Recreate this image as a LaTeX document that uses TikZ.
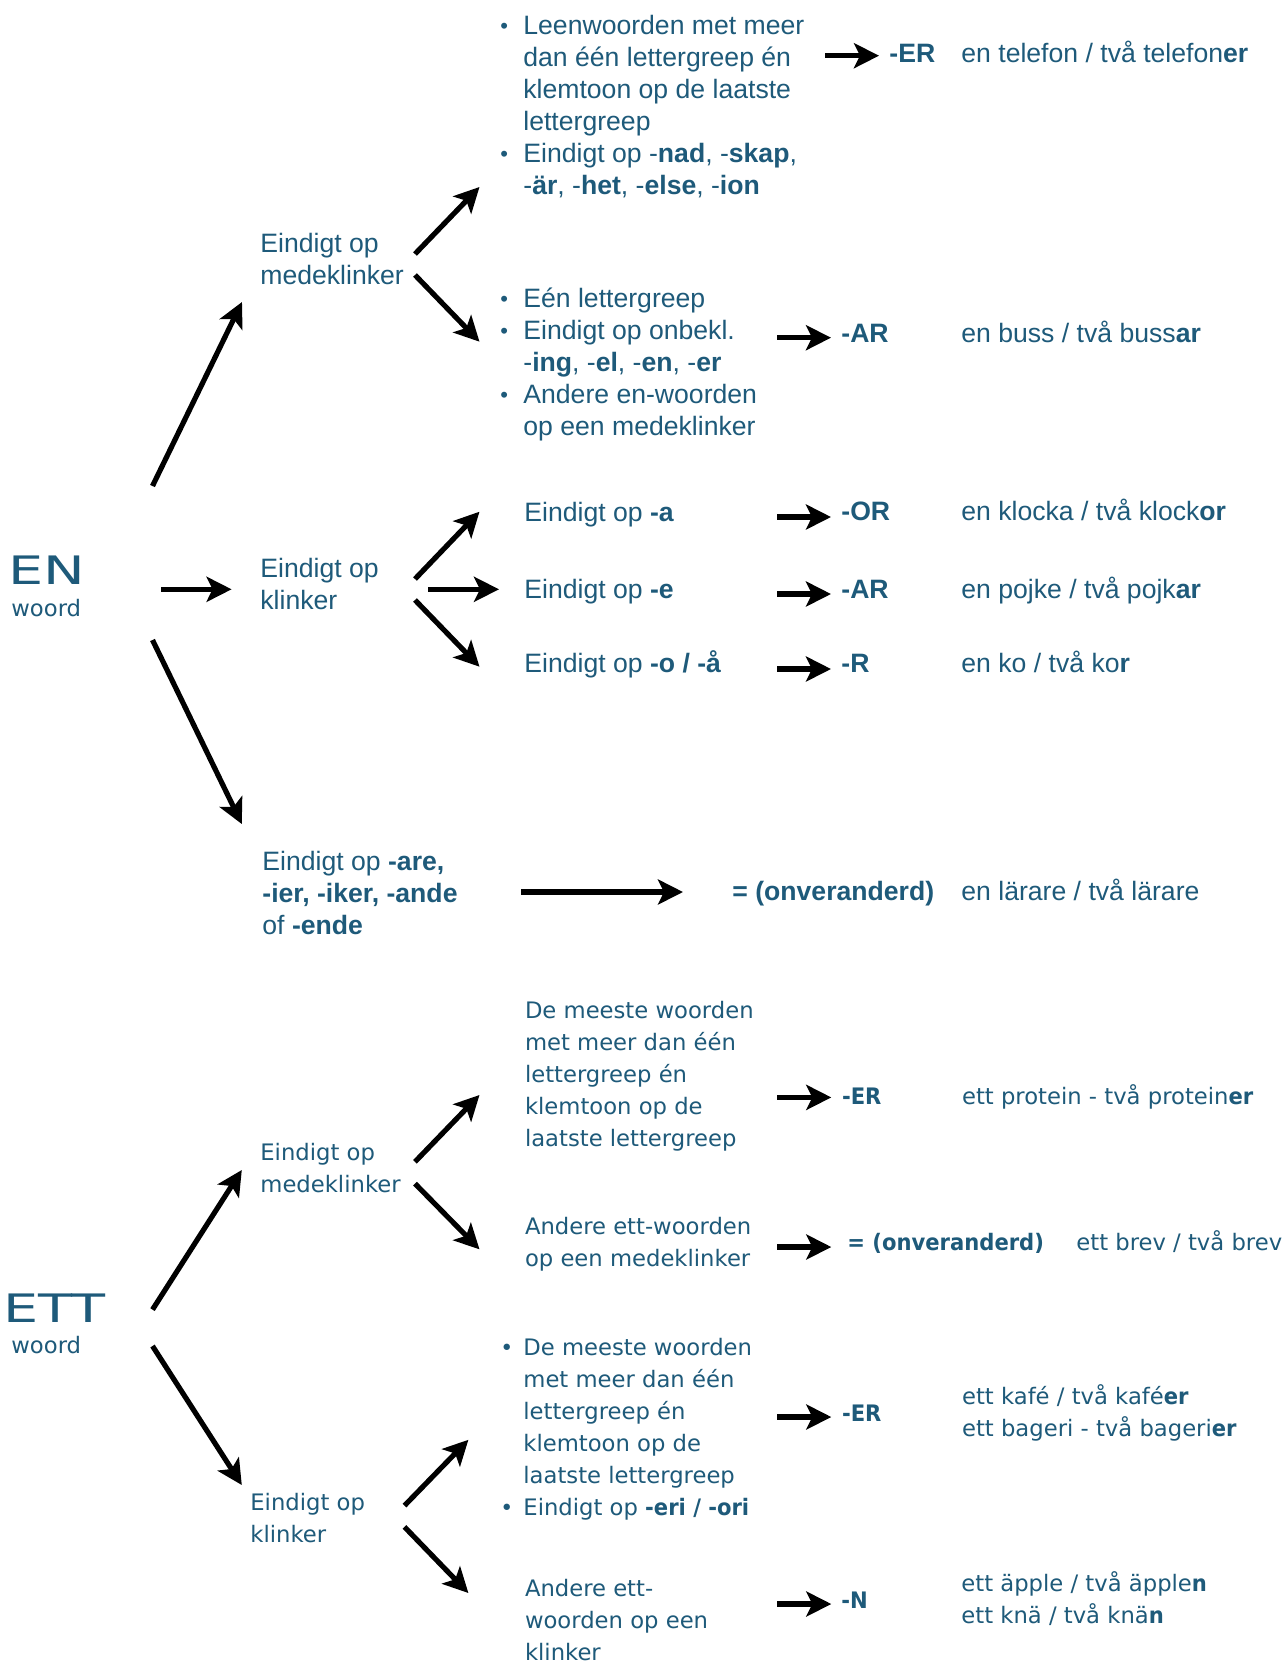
\documentclass[tikz,border=0pt]{standalone}
\usepackage{fontspec}
\setmainfont{Liberation Sans}
\newfontfamily\ettf[BoldFeatures={FakeStretch=0.93}]{DejaVu Sans}
\newfontfamily\bigf[FakeStretch=1.42]{DejaVu Sans}
\usetikzlibrary{arrows.meta}
\definecolor{tealc}{HTML}{1E5A7A}
\newcommand\ml[1]{\begin{tabular}[t]{@{}l@{}}#1\end{tabular}}
\newcommand\bu{\makebox[11.5pt][l]{\raisebox{0.2pt}{\fontsize{11}{11}\selectfont •}}}
\newcommand\ind{\hspace*{11.5pt}}
\begin{document}
\begin{tikzpicture}[x=0.5pt,y=-0.5pt,
  arr/.style={line width=2.6pt,-{Stealth[length=12.5pt,width=12.5pt,inset=3pt]}},
  en/.style={anchor=base west,inner sep=0pt,text=tealc,font=\fontsize{13.3}{16}\selectfont},
  et/.style={anchor=base west,inner sep=0pt,text=tealc,font=\ettf\fontsize{11.35}{16}\selectfont},
  big/.style={anchor=base west,inner sep=0pt,text=tealc,font=\bigf\fontsize{19.6}{20}\selectfont}]
\path[fill=white,use as bounding box] (0,0) rectangle (1284,1661);

% ---------------- EN section ----------------
\node[big] (en) at (8,584) {EN};
\node[et] (enw) at (11,616) {woord};
\node[en] (mk1) at (260,252) {\ml{Eindigt op\\medeklinker}};
\node[en] (kl1) at (260,577) {\ml{Eindigt op\\klinker}};
\node[en] (are) at (262,870) {\ml{Eindigt op \textbf{-are,}\\\textbf{-ier, -iker, -ande}\\of \textbf{-ende}}};
\node[en] (l1) at (500,34.3) {\ml{\bu Leenwoorden met meer\\\ind dan één lettergreep én\\\ind klemtoon op de laatste\\\ind lettergreep\\\bu Eindigt op -\textbf{nad}, -\textbf{skap},\\\ind -\textbf{är}, -\textbf{het}, -\textbf{else}, -\textbf{ion}}};
\node[en] (l2) at (500,307) {\ml{\bu Eén lettergreep\\\bu Eindigt op onbekl.\\\ind -\textbf{ing}, -\textbf{el}, -\textbf{en}, -\textbf{er}\\\bu Andere en-woorden\\\ind op een medeklinker}};
\node[en] (ea) at (524,521) {Eindigt op \textbf{-a}};
\node[en] (ee) at (524,598) {Eindigt op \textbf{-e}};
\node[en] (eo) at (524,672) {Eindigt op \textbf{-o / -å}};

\node[en] (r1) at (889,62) {\textbf{-ER}};
\node[en] (x1) at (961,62) {en telefon / två telefon\textbf{er}};
\node[en] (r2) at (841,342) {\textbf{-AR}};
\node[en] (x2) at (961,342) {en buss / två buss\textbf{ar}};
\node[en] (r3) at (841,520) {\textbf{-OR}};
\node[en] (x3) at (961,520) {en klocka / två klock\textbf{or}};
\node[en] (r4) at (841,598) {\textbf{-AR}};
\node[en] (x4) at (961,598) {en pojke / två pojk\textbf{ar}};
\node[en] (r5) at (841,672) {\textbf{-R}};
\node[en] (x5) at (961,672) {en ko / två ko\textbf{r}};
\node[en] (r6) at (732,900) {\textbf{= (onveranderd)}};
\node[en] (x6) at (961,900) {en lärare / två lärare};

% arrow end points (EN)
\coordinate (a1s) at (152.5,486);   \coordinate (a1e) at (242,302);
\coordinate (a2s) at (161,589.3);   \coordinate (a2e) at (231.6,589.3);
\coordinate (a3s) at (152.5,640);   \coordinate (a3e) at (241.8,824);
\coordinate (m1s) at (415,254);     \coordinate (m1e) at (479.5,187);
\coordinate (m2s) at (415,275);     \coordinate (m2e) at (479.5,341.7);
\coordinate (k1s) at (415,579);     \coordinate (k1e) at (479.5,511.7);
\coordinate (k2s) at (428,589.3);   \coordinate (k2e) at (499,589.3);
\coordinate (k3s) at (415,600);     \coordinate (k3e) at (479.5,666.7);
\coordinate (p1s) at (825,55.7);    \coordinate (p1e) at (879,55.7);
\coordinate (p2s) at (777,337.7);   \coordinate (p2e) at (831,337.7);
\coordinate (p3s) at (777,517);     \coordinate (p3e) at (831,517);
\coordinate (p4s) at (777,594);     \coordinate (p4e) at (831,594);
\coordinate (p5s) at (777,669);     \coordinate (p5e) at (831,669);
\coordinate (p6s) at (521,892);     \coordinate (p6e) at (683,892);
\foreach \a in {a1,a2,a3,m1,m2,k1,k2,k3,p1,p2,p3,p4,p5,p6}
  \draw[arr] (\a s) -- (\a e);

% ---------------- ETT section ----------------
\node[big] (ett) at (3,1322) {ETT};
\node[et] (ettw) at (11,1353) {woord};
\node[et] (mk2) at (260,1160) {\ml{Eindigt op\\medeklinker}};
\node[et] (kl2) at (250,1510) {\ml{Eindigt op\\klinker}};
\node[et] (t1) at (524.6,1018) {\ml{De meeste woorden\\met meer dan één\\lettergreep én\\klemtoon op de\\laatste lettergreep}};
\node[et] (t2) at (524.6,1234.5) {\ml{Andere ett-woorden\\op een medeklinker}};
\node[et] (t3) at (500,1355.5) {\ml{\bu De meeste woorden\\\ind met meer dan één\\\ind lettergreep én\\\ind klemtoon op de\\\ind laatste lettergreep\\\bu Eindigt op \textbf{-eri / -ori}}};
\node[et] (t4) at (524.6,1596) {\ml{Andere ett-\\woorden op een\\klinker}};

\node[et] (r7) at (841.6,1104) {\textbf{-ER}};
\node[et] (x7) at (961.7,1104) {ett protein - två protein\textbf{er}};
\node[et] (r8) at (847,1250) {\textbf{= (onveranderd)}};
\node[et] (x8) at (1076,1250) {ett brev / två brev};
\node[et] (r9) at (841.6,1421.5) {\textbf{-ER}};
\node[et] (x9) at (961.7,1404) {\ml{ett kafé / två kafé\textbf{er}\\ett bageri - två bageri\textbf{er}}};
\node[et] (r10) at (841,1608) {\textbf{-N}};
\node[et] (x10) at (961,1591) {\ml{ett äpple / två äpple\textbf{n}\\ett knä / två knä\textbf{n}}};

% arrow end points (ETT)
\coordinate (b1s) at (152.5,1309.6); \coordinate (b1e) at (241.8,1170);
\coordinate (b2s) at (152.5,1346);   \coordinate (b2e) at (241.8,1485);
\coordinate (c1s) at (415,1161.8);   \coordinate (c1e) at (479.5,1095);
\coordinate (c2s) at (415,1183.6);   \coordinate (c2e) at (479.5,1249.3);
\coordinate (d1s) at (404.5,1505.6); \coordinate (d1e) at (468.4,1439.8);
\coordinate (d2s) at (404.5,1526.9); \coordinate (d2e) at (468.4,1593);
\coordinate (q1s) at (777,1097.4);   \coordinate (q1e) at (831.3,1097.4);
\coordinate (q2s) at (777,1247);     \coordinate (q2e) at (831.3,1247);
\coordinate (q3s) at (777,1417);     \coordinate (q3e) at (831.3,1417);
\coordinate (q4s) at (777,1604);     \coordinate (q4e) at (831.3,1604);
\foreach \a in {b1,b2,c1,c2,d1,d2,q1,q2,q3,q4}
  \draw[arr] (\a s) -- (\a e);
\end{tikzpicture}
\end{document}
